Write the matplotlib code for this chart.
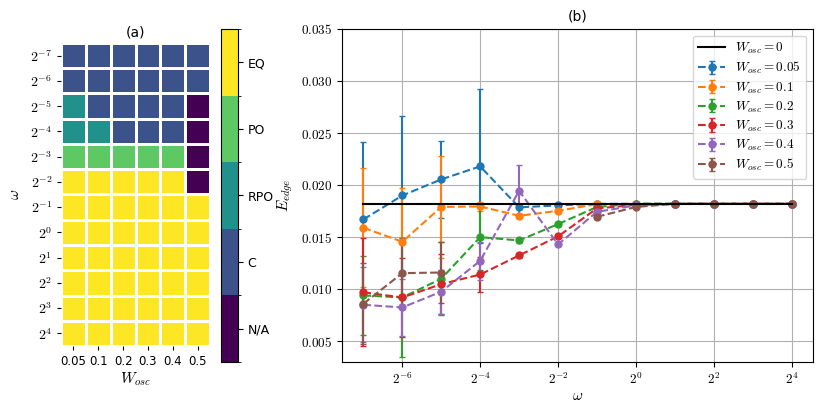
import numpy as np
import matplotlib
matplotlib.use("Agg")
import matplotlib.pyplot as plt
from matplotlib.colors import ListedColormap, BoundaryNorm
from matplotlib.ticker import FixedLocator, FuncFormatter

plt.rcParams['mathtext.fontset'] = 'cm'
plt.rcParams['font.family'] = ['DejaVu Sans']

# ---------------- data ----------------
w_osc_labels = ["0.05", "0.1", "0.2", "0.3", "0.4", "0.5"]
omega_exp = [-7, -6, -5, -4, -3, -2, -1, 0, 1, 2, 3, 4]
categories = ["N/A", "C", "RPO", "PO", "EQ"]

# heatmap codes: 0=N/A, 1=C, 2=RPO, 3=PO, 4=EQ ; rows omega 2^-7 .. 2^4, cols W_osc
regime = [
    [1, 1, 1, 1, 1, 1],
    [1, 1, 1, 1, 1, 1],
    [2, 1, 1, 1, 1, 0],
    [2, 2, 1, 1, 1, 0],
    [3, 3, 3, 3, 3, 0],
    [4, 4, 4, 4, 4, 0],
    [4, 4, 4, 4, 4, 4],
    [4, 4, 4, 4, 4, 4],
    [4, 4, 4, 4, 4, 4],
    [4, 4, 4, 4, 4, 4],
    [4, 4, 4, 4, 4, 4],
    [4, 4, 4, 4, 4, 4],
]

e_edge_w0 = 0.0182

series_names = ["0.05", "0.1", "0.2", "0.3", "0.4", "0.5"]
e_005 = [0.0167, 0.0190, 0.02055, 0.0218, 0.01786, 0.01805, 0.0182, 0.0182, 0.0182, 0.0182, 0.0182, 0.0182]
err_005 = [0.0074, 0.0076, 0.0037, 0.0074, 0.0002, 0.0001, 0.0001, 0.0001, 0.0001, 0.0001, 0.0001, 0.0001]
e_01 = [0.0159, 0.01455, 0.01790, 0.01795, 0.01705, 0.01753, 0.01817, 0.0182, 0.0182, 0.0182, 0.0182, 0.0182]
err_01 = [0.0057, 0.0052, 0.0049, 0.0004, 0.0002, 0.0002, 0.0001, 0.0001, 0.0001, 0.0001, 0.0001, 0.0001]
e_02 = [0.0094, 0.0092, 0.0110, 0.0150, 0.01468, 0.01625, 0.0179, 0.0182, 0.0182, 0.0182, 0.0182, 0.0182]
err_02 = [0.0038, 0.0057, 0.0035, 0.0032, 0.0002, 0.0002, 0.0001, 0.0001, 0.0001, 0.0001, 0.0001, 0.0001]
e_03 = [0.0097, 0.0092, 0.01048, 0.01141, 0.01324, 0.01507, 0.01776, 0.0181, 0.0182, 0.0182, 0.0182, 0.0182]
err_03 = [0.0052, 0.0038, 0.0029, 0.0017, 0.0002, 0.0002, 0.0001, 0.0001, 0.0001, 0.0001, 0.0001, 0.0001]
e_04 = [0.0085, 0.00824, 0.00976, 0.01272, 0.01945, 0.0143, 0.01743, 0.01805, 0.0182, 0.0182, 0.0182, 0.0182]
err_04 = [0.0036, 0.0027, 0.0021, 0.0018, 0.0025, 0.0002, 0.0001, 0.0001, 0.0001, 0.0001, 0.0001, 0.0001]
e_05 = [0.0086, 0.01154, 0.01160, np.nan, np.nan, np.nan, 0.01695, 0.0179, 0.0182, 0.0182, 0.0182, 0.0182]
err_05 = [0.0039, 0.0034, 0.0029, np.nan, np.nan, np.nan, 0.0001, 0.0001, 0.0001, 0.0001, 0.0001, 0.0001]

series_vals = [e_005, e_01, e_02, e_03, e_04, e_05]
series_errs = [err_005, err_01, err_02, err_03, err_04, err_05]
colors = ["#1f77b4", "#ff7f0e", "#2ca02c", "#d62728", "#9467bd", "#8c564b"]

omega = [2.0 ** k for k in omega_exp]

# ---------------- figure ----------------
fig = plt.figure(figsize=(8.3, 4.15), dpi=100)

ax_h = fig.add_axes([61 / 830, (415 - 346) / 415, 149 / 830, 303 / 415])
cax = fig.add_axes([221 / 830, (415 - 362) / 415, 17 / 830, 333 / 415])
ax = fig.add_axes([342 / 830, (415 - 362) / 415, 471 / 830, 333 / 415])

vir = plt.get_cmap("viridis")
cmap = ListedColormap([vir(v) for v in np.linspace(0, 1, 5)])
norm = BoundaryNorm(np.arange(-0.5, 5.5, 1), cmap.N)

data = np.array(regime)
nr, nc = data.shape
mesh = ax_h.pcolormesh(np.arange(nc + 1) - 0.5, np.arange(nr + 1) - 0.5, data,
                       cmap=cmap, norm=norm, edgecolors="white", linewidth=2)
ax_h.set_xlim(-0.5, nc - 0.5)
ax_h.set_ylim(nr - 0.5, -0.5)
for s in ax_h.spines.values():
    s.set_visible(False)
ax_h.set_xticks(range(nc))
ax_h.set_xticklabels(w_osc_labels, fontsize=8.5)
ax_h.set_yticks(range(nr))
ax_h.set_yticklabels([r"$2^{%d}$" % k for k in omega_exp], fontsize=10)
ax_h.tick_params(length=3)
ax_h.set_xlabel(r"$W_{osc}$", fontsize=11, labelpad=2)
ax_h.set_ylabel(r"$\omega$", fontsize=11, labelpad=6)
ax_h.set_title("(a)", fontsize=10, pad=5)

cb = fig.colorbar(mesh, cax=cax, ticks=range(5))
cb.ax.set_yticklabels(categories, fontsize=9)

# right panel
ax.plot(omega, [e_edge_w0] * len(omega), color="black", lw=1.5, label=r"$W_{osc} = 0$", zorder=3)
for name, vals, errs, c in zip(series_names, series_vals, series_errs, colors):
    ax.errorbar(omega, vals, yerr=errs, fmt="o--", color=c, capsize=2.5, markersize=5,
                lw=1.5, elinewidth=1.5, label=r"$W_{osc} = %s$" % name)

ax.set_xscale("log", base=2)
ax.xaxis.set_major_locator(FixedLocator([2.0 ** k for k in [-6, -4, -2, 0, 2, 4]]))
ax.xaxis.set_minor_locator(FixedLocator([]))
ax.xaxis.set_major_formatter(FuncFormatter(lambda v, p: r"$2^{%d}$" % int(round(np.log2(v)))))
ax.set_ylim(0.003, 0.035)
ax.yaxis.set_major_locator(FixedLocator([0.005, 0.010, 0.015, 0.020, 0.025, 0.030, 0.035]))
ax.yaxis.set_major_formatter(FuncFormatter(lambda v, p: r"$%.3f$" % v))
ax.tick_params(labelsize=9.5)
ax.grid(True, color="#b0b0b0", lw=0.8)
ax.set_axisbelow(True)
ax.set_xlabel(r"$\omega$", fontsize=11, labelpad=1)
ax.set_ylabel(r"$E_{edge}$", fontsize=11)
ax.set_title("(b)", fontsize=10, pad=6)
ax.legend(loc="upper right", fontsize=9.5, labelspacing=0.3)

fig.savefig("out.png", dpi=100)
